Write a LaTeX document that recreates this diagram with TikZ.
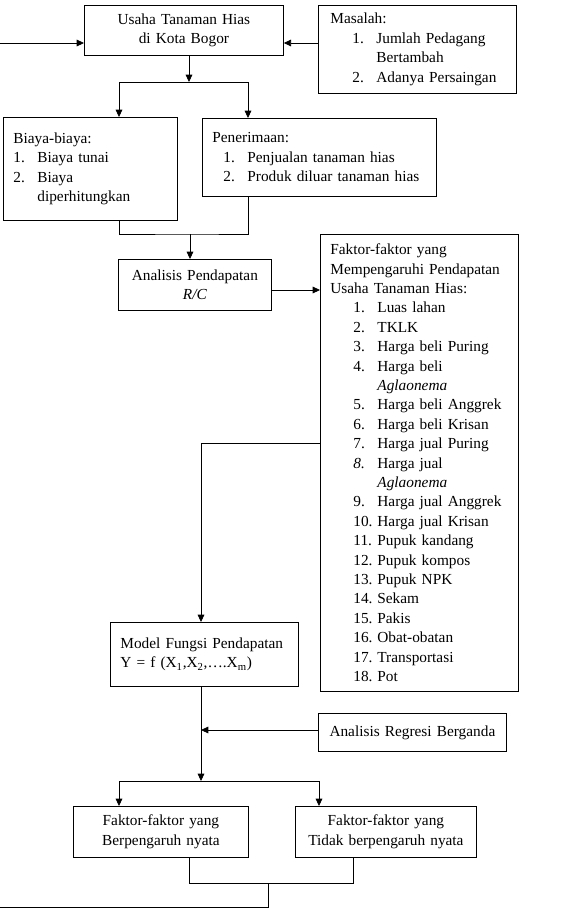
\documentclass[tikz,border=0pt]{standalone}
\usepackage{fontspec}
\setmainfont{Liberation Serif}
\usetikzlibrary{arrows.meta}
\newcommand\itm[3]{\hspace*{#1}\makebox[18pt][l]{#2}#3}
\hyphenpenalty=10000
\exhyphenpenalty=10000

\begin{document}
\begin{tikzpicture}[x=0.75pt,y=-0.75pt,line width=0.6pt,line join=miter,>={Triangle[length=5.5pt,width=5pt]},
	box/.style={draw,anchor=north west,inner xsep=7.5pt,inner ysep=0pt,font=\fontsize{11.5}{14.55}\selectfont}]
	\useasboundingbox (0,0) rectangle (567,908);
	\node[box,text width=134.25pt,minimum height=37.5pt,align=center] (usaha) at (84,5) {Usaha Tanaman Hias\\di Kota Bogor};
	\node[box,text width=133.5pt,minimum height=66pt,align=left] (masalah) at (318,5) {\hspace*{1.5pt}Masalah:\\\itm{18pt}{1.}{Jumlah Pedagang}\\\hspace*{36pt}Bertambah\\\itm{18pt}{2.}{Adanya Persaingan}};
	\node[box,text width=115.5pt,minimum height=77.25pt,align=left] (biaya) at (3,117) {Biaya-biaya:\\\itm{0pt}{1.}{Biaya tunai}\\\itm{0pt}{2.}{Biaya}\\\hspace*{18pt}diperhitungkan\par\vspace{7.5pt}};
	\node[box,text width=160.5pt,minimum height=58.5pt,align=left] (terima) at (202,118) {Penerimaan:\\\itm{8.25pt}{1.}{Penjualan tanaman hias}\\\itm{8.25pt}{2.}{Produk diluar tanaman hias}};
	\node[box,text width=99.75pt,minimum height=38.25pt,align=center] (analisis) at (118,259) {Analisis Pendapatan\\\textit{R/C}};
	\node[box,text width=133.5pt,minimum height=342.75pt,align=left] (faktor) at (320,234) {Faktor-faktor yang\\Mempengaruhi Pendapatan\\Usaha Tanaman Hias:\\
		\itm{17.25pt}{1.}{Luas lahan}\\\itm{17.25pt}{2.}{TKLK}\\\itm{17.25pt}{3.}{Harga beli Puring}\\\itm{17.25pt}{4.}{Harga beli}\\\hspace*{35.25pt}\textit{Aglaonema}\\
		\itm{17.25pt}{5.}{Harga beli Anggrek}\\\itm{17.25pt}{6.}{Harga beli Krisan}\\\itm{17.25pt}{7.}{Harga jual Puring}\\\itm{17.25pt}{\textit{8.}}{Harga jual}\\\hspace*{35.25pt}\textit{Aglaonema}\\
		\itm{17.25pt}{9.}{Harga jual Anggrek}\\\itm{17.25pt}{10.}{Harga jual Krisan}\\\itm{17.25pt}{11.}{Pupuk kandang}\\\itm{17.25pt}{12.}{Pupuk kompos}\\\itm{17.25pt}{13.}{Pupuk NPK}\\
		\itm{17.25pt}{14.}{Sekam}\\\itm{17.25pt}{15.}{Pakis}\\\itm{17.25pt}{16.}{Obat-obatan}\\\itm{17.25pt}{17.}{Transportasi}\\\itm{17.25pt}{18.}{Pot}};
	\node[box,text width=126pt,minimum height=48pt,align=left] (model) at (110,622) {Model Fungsi Pendapatan\\Y = f (X\textsubscript{1},X\textsubscript{2},\ldots.X\textsubscript{m})\par\vspace{9pt}};
	\node[box,text width=126pt,minimum height=28.5pt,align=center] (regresi) at (318,713) {Analisis Regresi Berganda};
	\node[box,text width=116.25pt,minimum height=38.25pt,align=center] (nyata) at (73,806) {Faktor-faktor yang\\Berpengaruh nyata};
	\node[box,text width=120.75pt,minimum height=38.25pt,align=center] (tidak) at (295,806) {Faktor-faktor yang\\Tidak berpengaruh nyata};
	\coordinate (in) at (0,43);\coordinate (j1) at (189,82);\coordinate (b1) at (119,82);\coordinate (b2) at (248,82);
	\coordinate (j2) at (190,234);\coordinate (m1) at (201,443);\coordinate (j3) at (201,781);\coordinate (c1) at (119,781);\coordinate (c2) at (319,781);
	\coordinate (j4) at (268,883);\coordinate (out) at (0,907);
	\draw[->] (in) -- (in -| usaha.west);
	\draw[->] (in -| masalah.west) -- (in -| usaha.east);
	\draw[->] (usaha.south -| j1) -- (j1);
	\draw (b1) -- (b2);\draw[->] (b1) -- (b1 |- biaya.north);\draw[->] (b2) -- (b2 |- terima.north);
	\draw (biaya.south -| b1) |- (j2) -| (terima.south -| b2);
	\draw[->] (j2) -- (j2 |- analisis.north);
	\draw[->] (analisis.east |- 0,290) -- (faktor.west |- 0,290);
	\draw[->] (faktor.west |- m1) -- (m1) -- (m1 |- model.north);
	\draw[->] (model.south -| j3) -- (j3);
	\draw[->] (regresi.west |- 0,730) -- (j3 |- 0,730);
	\draw (c1) -- (c2);\draw[->] (c1) -- (c1 |- nyata.north);\draw[->] (c2) -- (c2 |- tidak.north);
	\draw (nyata.south -| 189,0) |- (j4) -| (tidak.south -| 353,0);
	\draw (j4) |- (out);
\end{tikzpicture}
\end{document}
